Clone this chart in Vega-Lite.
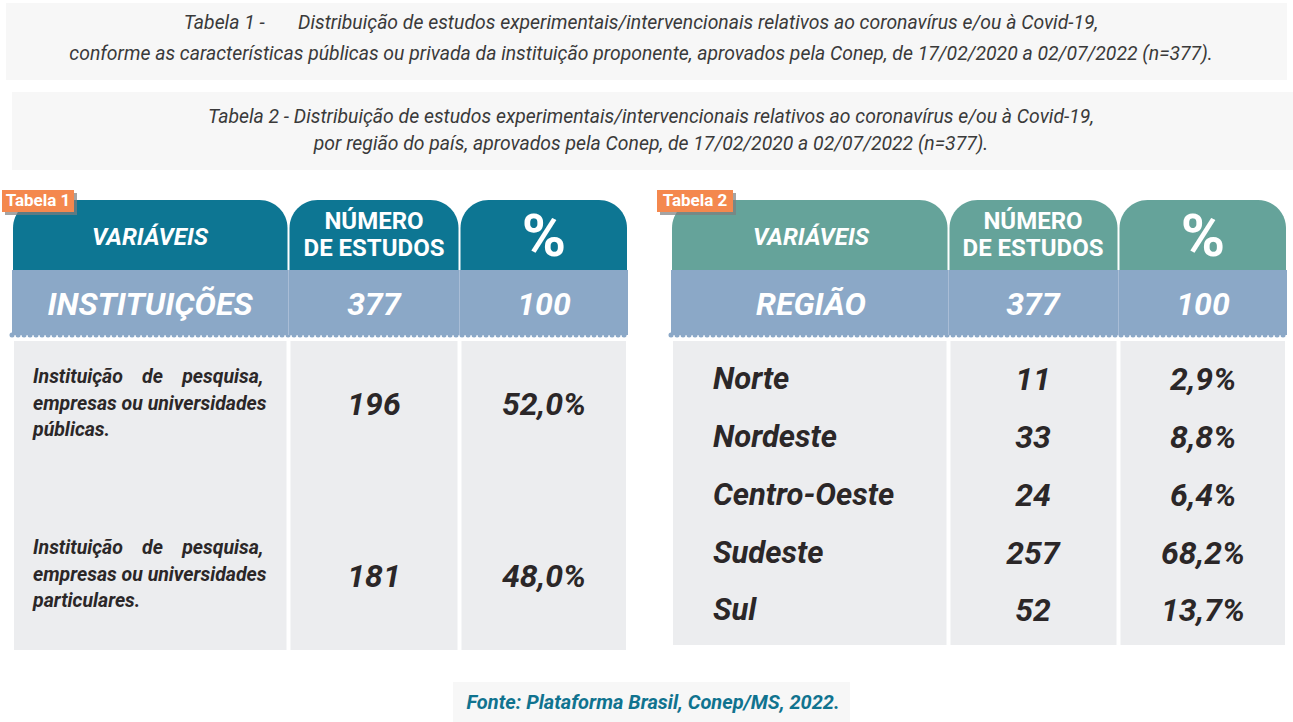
{
  "$schema": "https://vega.github.io/schema/vega-lite/v6.json",
  "width": 1293,
  "height": 722,
  "padding": 0,
  "autosize": {"type": "none"},
  "background": "white",
  "config": {"view": {"stroke": null}, "axis": {"disable": true}, "text": {"font": "Roboto, sans-serif"}},
  "encoding": {
    "x": {"field": "c", "type": "quantitative", "axis": null,
      "scale": {"type": "linear", "nice": false, "zero": false,
        "domain": [0,1,2,3,4,5,6,7,8,9,10,11,12,13,14,15,16,17,18,19,20,21,22,23,24,25,26,27,28,29,30,31],
        "range": [6,1287,12,1293,641,651,453,850,653,0,2,12,38,74,31,150,288.5,374,459.5,544,628,657,671,695,733,713,811,948.5,1033,1118.5,1203,1287]}},
    "y": {"field": "r", "type": "quantitative", "axis": null,
      "scale": {"type": "linear", "nice": false, "zero": false,
        "domain": [0,1,2,3,4,5,6,7,8,9,10,11,12,13,14,15,16,17,18,19,20,21,22,23,24,25,26,27,28,29,30],
        "range": [3,80,23,92,170,117,682,722,703,0,190,200,201,212,238,270,305,335,341,650,645,405,577,380,438,496,554,611,377,548,222]}}
  },
  "layer": [
    {
      "data": {"values": [
        {"c": 0, "c2": 1, "r": 0, "r2": 1},
        {"c": 2, "c2": 3, "r": 3, "r2": 4},
        {"c": 6, "c2": 7, "r": 6, "r2": 7}
      ]},
      "mark": {"type": "rect", "color": "#f7f7f7"},
      "encoding": {"x2": {"field": "c2"}, "y2": {"field": "r2"}}
    },
    {
      "data": {"values": [
        {"c": 4, "r": 2, "text": ["Tabela 1 -\u00a0\u00a0\u00a0\u00a0\u00a0\u00a0 Distribuição de estudos experimentais/intervencionais relativos ao coronavírus e/ou à Covid-19,", "conforme as características públicas ou privada da instituição proponente, aprovados pela Conep, de 17/02/2020 a 02/07/2022 (n=377)."]}
      ]},
      "mark": {"type": "text", "fontSize": 19.4, "fontStyle": "italic", "lineHeight": 31, "color": "#3a3a3a", "align": "center", "baseline": "middle"},
      "encoding": {"text": {"field": "text"}}
    },
    {
      "data": {"values": [
        {"c": 5, "r": 5, "text": ["Tabela 2 - Distribuição de estudos experimentais/intervencionais relativos ao coronavírus e/ou à Covid-19,", "por região do país, aprovados pela Conep, de 17/02/2020 a 02/07/2022 (n=377)."]}
      ]},
      "mark": {"type": "text", "fontSize": 19.4, "fontStyle": "italic", "lineHeight": 27, "color": "#3a3a3a", "align": "center", "baseline": "middle"},
      "encoding": {"text": {"field": "text"}}
    },
    {
      "data": {"values": [
        {"c": 8, "r": 8, "text": "Fonte: Plataforma Brasil, Conep/MS, 2022."}
      ]},
      "mark": {"type": "text", "fontSize": 20, "fontStyle": "italic", "fontWeight": "bold", "color": "#10738f", "align": "center", "baseline": "middle"},
      "encoding": {"text": {"field": "text"}}
    },
    {
      "data": {"values": [
        {"table": 1, "c": 11, "c2": 16, "r": 11, "r2": 15},
        {"table": 1, "c": 16, "c2": 18, "r": 11, "r2": 15},
        {"table": 1, "c": 18, "c2": 20, "r": 11, "r2": 15},
        {"table": 2, "c": 22, "c2": 27, "r": 11, "r2": 15},
        {"table": 2, "c": 27, "c2": 29, "r": 11, "r2": 15},
        {"table": 2, "c": 29, "c2": 31, "r": 11, "r2": 15}
      ]},
      "mark": {"type": "rect", "cornerRadiusTopLeft": 28, "cornerRadiusTopRight": 28, "xOffset": 1, "x2Offset": -1},
      "encoding": {
        "x2": {"field": "c2"}, "y2": {"field": "r2"},
        "color": {"field": "table", "type": "nominal", "legend": null, "scale": {"domain": [1, 2], "range": ["#0d7693", "#65a39a"]}}
      }
    },
    {
      "data": {"values": [
        {"c": 11, "c2": 20, "r": 15, "r2": 17},
        {"c": 22, "c2": 31, "r": 15, "r2": 17}
      ]},
      "mark": {"type": "rect", "color": "#8ba8c7"},
      "encoding": {"x2": {"field": "c2"}, "y2": {"field": "r2"}}
    },
    {
      "data": {"values": [
        {"c": 11, "c2": 20, "r": 17},
        {"c": 22, "c2": 31, "r": 17}
      ]},
      "mark": {"type": "rule", "color": "#8ba8c7", "strokeWidth": 5, "strokeDash": [0.1, 5.9], "strokeCap": "round"},
      "encoding": {"x2": {"field": "c2"}}
    },
    {
      "data": {"values": [
        {"c": 16, "r": 15, "r2": 17},
        {"c": 18, "r": 15, "r2": 17},
        {"c": 27, "r": 15, "r2": 17},
        {"c": 29, "r": 15, "r2": 17}
      ]},
      "mark": {"type": "rule", "color": "#a9bdd6", "strokeWidth": 1},
      "encoding": {"y2": {"field": "r2"}}
    },
    {
      "data": {"values": [
        {"c": 11, "c2": 16, "r": 18, "r2": 19},
        {"c": 16, "c2": 18, "r": 18, "r2": 19},
        {"c": 18, "c2": 20, "r": 18, "r2": 19},
        {"c": 22, "c2": 27, "r": 18, "r2": 20},
        {"c": 27, "c2": 29, "r": 18, "r2": 20},
        {"c": 29, "c2": 31, "r": 18, "r2": 20}
      ]},
      "mark": {"type": "rect", "color": "#ecedef", "xOffset": 2, "x2Offset": -2},
      "encoding": {"x2": {"field": "c2"}, "y2": {"field": "r2"}}
    },
    {
      "data": {"values": [
        {"c": 10, "c2": 13, "r": 10, "r2": 13},
        {"c": 21, "c2": 24, "r": 10, "r2": 13}
      ]},
      "mark": {"type": "rect", "color": "#7d7d7d", "opacity": 0.7, "xOffset": 3, "x2Offset": 3, "yOffset": 3, "y2Offset": 3},
      "encoding": {"x2": {"field": "c2"}, "y2": {"field": "r2"}}
    },
    {
      "data": {"values": [
        {"c": 10, "c2": 13, "r": 10, "r2": 13},
        {"c": 21, "c2": 24, "r": 10, "r2": 13}
      ]},
      "mark": {"type": "rect", "color": "#f4884e"},
      "encoding": {"x2": {"field": "c2"}, "y2": {"field": "r2"}}
    },
    {
      "data": {"values": [
        {"c": 12, "r": 12, "text": "Tabela 1"},
        {"c": 23, "r": 12, "text": "Tabela 2"}
      ]},
      "mark": {"type": "text", "fontSize": 17, "fontWeight": "bold", "color": "white", "align": "center", "baseline": "middle"},
      "encoding": {"text": {"field": "text"}}
    },
    {
      "data": {"values": [
        {"c": 15, "r": 14, "text": "VARIÁVEIS"},
        {"c": 26, "r": 14, "text": "VARIÁVEIS"}
      ]},
      "mark": {"type": "text", "fontSize": 24, "fontWeight": "bold", "fontStyle": "italic", "color": "white", "align": "center", "baseline": "middle"},
      "encoding": {"text": {"field": "text"}}
    },
    {
      "data": {"values": [
        {"c": 17, "r": 30, "text": ["NÚMERO", "DE ESTUDOS"]},
        {"c": 28, "r": 30, "text": ["NÚMERO", "DE ESTUDOS"]}
      ]},
      "mark": {"type": "text", "fontSize": 24, "fontWeight": "bold", "lineHeight": 27, "color": "white", "align": "center", "baseline": "middle"},
      "encoding": {"text": {"field": "text"}}
    },
    {
      "data": {"values": [
        {"c": 19, "r": 14, "text": "%"},
        {"c": 30, "r": 14, "text": "%"}
      ]},
      "mark": {"type": "text", "fontSize": 60, "fontWeight": "bold", "color": "white", "align": "center", "baseline": "middle"},
      "encoding": {"text": {"field": "text"}}
    },
    {
      "data": {"values": [
        {"c": 15, "r": 16, "text": "INSTITUIÇÕES"},
        {"c": 17, "r": 16, "text": "377"},
        {"c": 19, "r": 16, "text": "100"},
        {"c": 26, "r": 16, "text": "REGIÃO"},
        {"c": 28, "r": 16, "text": "377"},
        {"c": 30, "r": 16, "text": "100"}
      ]},
      "mark": {"type": "text", "fontSize": 32, "fontWeight": "bold", "fontStyle": "italic", "color": "white", "align": "center", "baseline": "middle"},
      "encoding": {"text": {"field": "text"}}
    },
    {
      "data": {"values": [
        {"c": 14, "r": 28, "text": ["Instituição\u00a0\u00a0\u00a0\u00a0de\u00a0\u00a0\u00a0\u00a0pesquisa,", "empresas ou universidades", "públicas."]},
        {"c": 14, "r": 29, "text": ["Instituição\u00a0\u00a0\u00a0\u00a0de\u00a0\u00a0\u00a0\u00a0pesquisa,", "empresas ou universidades", "particulares."]}
      ]},
      "mark": {"type": "text", "fontSize": 19.5, "fontWeight": "bold", "fontStyle": "italic", "lineHeight": 26.5, "color": "#2b2728", "align": "left", "baseline": "middle", "dx": 2},
      "encoding": {"text": {"field": "text"}}
    },
    {
      "data": {"values": [
        {"c": 25, "r": 23, "text": "Norte"},
        {"c": 25, "r": 24, "text": "Nordeste"},
        {"c": 25, "r": 25, "text": "Centro-Oeste"},
        {"c": 25, "r": 26, "text": "Sudeste"},
        {"c": 25, "r": 27, "text": "Sul"}
      ]},
      "mark": {"type": "text", "fontSize": 31, "fontWeight": "bold", "fontStyle": "italic", "color": "#2b2728", "align": "left", "baseline": "middle"},
      "encoding": {"text": {"field": "text"}}
    },
    {
      "data": {"values": [
        {"c": 17, "r": 21, "text": "196"},
        {"c": 19, "r": 21, "text": "52,0%"},
        {"c": 17, "r": 22, "text": "181"},
        {"c": 19, "r": 22, "text": "48,0%"},
        {"c": 28, "r": 23, "text": "11"},
        {"c": 30, "r": 23, "text": "2,9%"},
        {"c": 28, "r": 24, "text": "33"},
        {"c": 30, "r": 24, "text": "8,8%"},
        {"c": 28, "r": 25, "text": "24"},
        {"c": 30, "r": 25, "text": "6,4%"},
        {"c": 28, "r": 26, "text": "257"},
        {"c": 30, "r": 26, "text": "68,2%"},
        {"c": 28, "r": 27, "text": "52"},
        {"c": 30, "r": 27, "text": "13,7%"}
      ]},
      "mark": {"type": "text", "fontSize": 32, "fontWeight": "bold", "fontStyle": "italic", "color": "#2b2728", "align": "center", "baseline": "middle"},
      "encoding": {"text": {"field": "text"}}
    }
  ]
}
